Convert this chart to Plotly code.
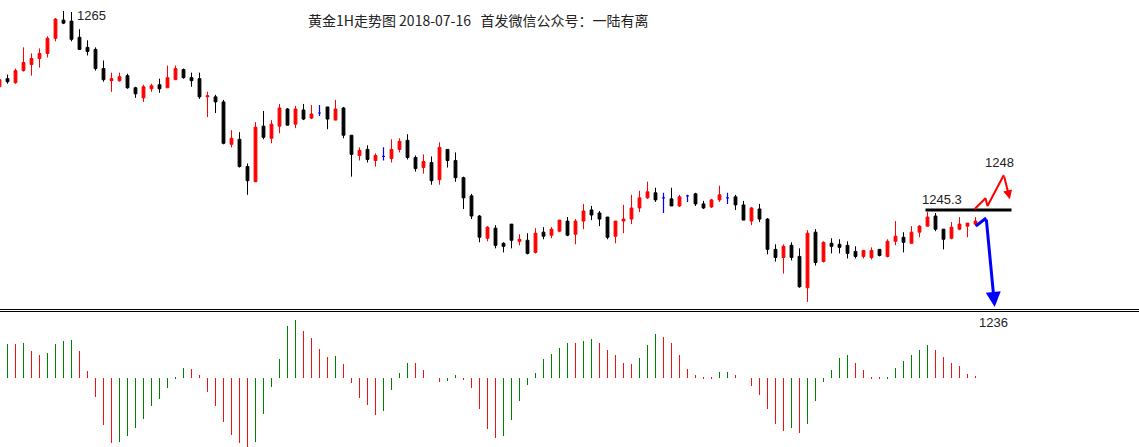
import plotly.graph_objects as go

# ---------------- data ----------------
opens = [1257.5, 1258.3, 1257.9, 1259.1, 1259.7, 1260.3, 1260.8, 1262.3, 1264.1, 1264.0,
         1262.4, 1261.4, 1261.2, 1259.3, 1258.1, 1258.1, 1258.6, 1257.4, 1256.4, 1257.3,
         1257.7, 1257.4, 1258.2, 1259.2, 1258.4, 1258.3, 1256.5, 1256.5, 1256.0, 1251.8,
         1252.3, 1249.6, 1248.1, 1253.6, 1252.4, 1253.6, 1255.3, 1253.8, 1255.2, 1254.4,
         1254.9, 1255.5, 1254.2, 1255.4, 1252.7, 1250.7, 1251.3, 1250.2, 1250.6, 1250.4,
         1251.3, 1252.2, 1250.5, 1249.5, 1250.0, 1248.3, 1251.3, 1250.2, 1248.5, 1246.7,
         1244.7, 1242.5, 1243.5, 1242.0, 1243.9, 1242.2, 1242.3, 1241.1, 1243.1, 1242.8,
         1243.2, 1244.2, 1242.9, 1244.2, 1245.3, 1245.0, 1244.6, 1242.7, 1244.2, 1244.4,
         1245.5, 1246.5, 1247.0, 1246.5, 1246.4, 1245.7, 1246.7, 1246.9, 1245.9, 1245.6,
         1246.3, 1246.5, 1246.6, 1245.8, 1244.2, 1245.4, 1244.4, 1241.4, 1240.6, 1241.8,
         1240.7, 1237.6, 1243.1, 1240.2, 1242.0, 1241.9, 1241.8, 1241.2, 1240.7, 1240.6,
         1241.4, 1240.7, 1242.2, 1242.6, 1242.0, 1243.1, 1243.7, 1244.7, 1243.4, 1242.5,
         1243.4, 1243.7, 1243.9]
highs = [1258.3, 1258.7, 1259.3, 1261.4, 1260.8, 1261.3, 1262.5, 1264.3, 1265.0, 1264.9,
         1263.2, 1262.1, 1261.4, 1260.1, 1258.9, 1258.9, 1258.8, 1257.5, 1257.7, 1257.8,
         1258.3, 1259.6, 1259.6, 1259.3, 1258.9, 1258.9, 1257.0, 1256.7, 1256.2, 1253.2,
         1253.0, 1249.9, 1254.0, 1255.1, 1254.2, 1255.8, 1255.4, 1255.6, 1255.8, 1255.7,
         1255.7, 1255.5, 1256.2, 1255.5, 1252.7, 1251.5, 1251.7, 1250.9, 1251.5, 1252.3,
         1252.4, 1252.8, 1250.7, 1250.8, 1250.6, 1252.0, 1251.3, 1251.0, 1248.6, 1246.9,
         1244.8, 1243.7, 1243.8, 1242.1, 1243.9, 1242.9, 1243.0, 1243.5, 1243.6, 1243.6,
         1244.3, 1244.6, 1244.4, 1245.9, 1245.7, 1245.2, 1244.6, 1244.2, 1245.8, 1246.8,
         1247.2, 1248.1, 1247.5, 1247.0, 1247.5, 1246.8, 1246.8, 1247.0, 1246.2, 1246.4,
         1247.7, 1247.0, 1246.8, 1246.2, 1245.6, 1245.9, 1244.5, 1241.9, 1241.9, 1242.1,
         1241.5, 1243.3, 1243.4, 1242.2, 1242.5, 1242.4, 1242.2, 1241.7, 1241.3, 1241.6,
         1241.4, 1242.4, 1244.2, 1243.1, 1243.7, 1243.8, 1245.1, 1245.0, 1243.4, 1244.1,
         1244.6, 1244.0, 1244.6]
lows = [1257.4, 1257.8, 1257.8, 1259.0, 1258.6, 1259.4, 1260.4, 1262.0, 1263.7, 1262.0,
        1261.2, 1260.6, 1259.1, 1258.0, 1257.0, 1258.0, 1257.3, 1256.4, 1256.0, 1257.0,
        1256.9, 1257.4, 1258.2, 1258.3, 1257.5, 1256.3, 1254.5, 1254.9, 1251.8, 1251.5,
        1249.5, 1246.8, 1248.1, 1252.3, 1251.9, 1252.9, 1253.7, 1253.4, 1254.2, 1254.3,
        1254.6, 1253.3, 1254.2, 1252.4, 1248.6, 1250.2, 1250.0, 1249.6, 1250.2, 1250.0,
        1251.0, 1250.3, 1249.1, 1248.9, 1247.8, 1247.8, 1249.5, 1248.1, 1245.4, 1244.4,
        1242.1, 1242.2, 1241.5, 1241.1, 1241.5, 1241.8, 1240.9, 1241.0, 1242.4, 1242.5,
        1243.1, 1242.7, 1241.9, 1243.4, 1244.3, 1243.7, 1242.4, 1242.0, 1243.0, 1243.9,
        1245.1, 1246.4, 1246.1, 1245.0, 1245.7, 1245.6, 1246.1, 1245.7, 1245.4, 1245.5,
        1246.1, 1245.9, 1245.3, 1244.3, 1243.8, 1244.1, 1240.9, 1240.2, 1239.0, 1240.3,
        1237.6, 1236.2, 1239.8, 1240.1, 1241.0, 1241.0, 1240.5, 1240.5, 1240.5, 1240.4,
        1240.7, 1240.6, 1241.8, 1241.1, 1242.0, 1242.6, 1243.7, 1243.2, 1241.4, 1242.4,
        1243.3, 1242.6, 1243.7]
closes = [1258.2, 1258.0, 1259.1, 1259.9, 1260.3, 1260.8, 1262.3, 1264.2, 1263.8, 1262.2,
          1261.2, 1261.0, 1259.3, 1258.2, 1258.3, 1258.5, 1257.4, 1256.8, 1257.5, 1257.6,
          1257.3, 1258.4, 1259.3, 1258.4, 1258.1, 1256.5, 1256.6, 1256.0, 1251.9, 1252.4,
          1249.6, 1248.2, 1253.5, 1252.5, 1253.8, 1255.4, 1253.7, 1255.3, 1254.3, 1254.8,
          1254.9, 1254.3, 1255.3, 1252.7, 1250.8, 1251.2, 1250.3, 1250.7, 1250.6, 1251.3,
          1252.1, 1250.5, 1249.4, 1250.1, 1248.2, 1251.5, 1250.2, 1248.5, 1246.5, 1244.7,
          1242.6, 1243.6, 1241.8, 1241.7, 1242.3, 1242.4, 1241.0, 1243.0, 1242.7, 1243.4,
          1244.3, 1242.8, 1244.2, 1245.2, 1244.8, 1244.4, 1242.6, 1244.2, 1244.4, 1245.5,
          1246.5, 1247.1, 1246.3, 1246.5, 1245.7, 1246.6, 1246.7, 1245.9, 1245.5, 1246.3,
          1246.8, 1246.5, 1245.8, 1244.3, 1245.5, 1244.4, 1241.4, 1240.6, 1241.7, 1240.6,
          1237.7, 1243.0, 1240.1, 1242.1, 1241.7, 1241.6, 1241.0, 1240.7, 1241.3, 1241.3,
          1240.8, 1242.2, 1242.7, 1242.1, 1243.1, 1243.7, 1244.6, 1243.4, 1242.4, 1243.6,
          1243.9, 1244.0, 1244.2]

# oscillator histogram (one bar per candle, starting at candle 1)
hist_values = [1.03, 1.03, 1.06, 0.82, 0.70, 0.76, 1.03, 1.12, 1.15, 0.82,
               0.22, -0.55, -1.39, -1.93, -1.92, -1.72, -1.48, -1.21, -0.82, -0.61,
               -0.28, 0.04, 0.31, 0.28, 0.10, -0.40, -0.82, -1.30, -1.69, -1.93,
               -2.05, -1.90, -1.06, -0.25, 0.58, 1.57, 1.75, 1.42, 1.21, 0.88,
               0.64, 0.67, 0.43, -0.13, -0.58, -0.79, -1.09, -0.97, -0.34, 0.16,
               0.46, 0.45, 0.25, 0.00, -0.10, -0.07, 0.10, -0.04, -0.28, -0.91,
               -1.51, -1.78, -1.72, -1.24, -0.67, -0.19, 0.16, 0.58, 0.73, 0.91,
               1.06, 1.05, 1.12, 1.18, 1.06, 0.85, 0.70, 0.46, 0.43, 0.61,
               1.00, 1.33, 1.24, 1.06, 0.70, 0.28, 0.10, 0.04, 0.01, 0.19,
               0.20, 0.10, 0.00, -0.22, -0.49, -0.91, -1.36, -1.57, -1.48, -1.63,
               -1.36, -0.67, -0.10, 0.25, 0.61, 0.70, 0.46, 0.25, 0.02, 0.01,
               0.015, 0.31, 0.52, 0.70, 0.85, 1.00, 0.85, 0.64, 0.46, 0.37,
               0.13, 0.07]

title_text = "黄金1H走势图 2018-07-16   首发微信公众号：一陆有离"
high_label = "1265"
level_price = 1245.3
level_x = [115.75, 126.5]
target_up = 1248
target_down = 1236
up_path_x = [121.9, 123.25, 123.5, 125.54, 126.29]
up_path_y = [1245.4, 1246.46, 1245.69, 1248.76, 1246.36]
down_path_x = [122.04, 123.34, 124.4]
down_path_y = [1243.72, 1244.5, 1235.7]

# ---------------- figure ----------------
RED = "#ff0000"
BLACK = "#000000"
BLUE = "#0000ff"
GREEN = "#008000"
HRED = "#ee1111"

idx = list(range(len(opens)))
main = [i for i in idx if opens[i] != closes[i]]
doji = [i for i in idx if opens[i] == closes[i]]

fig = go.Figure()
fig.add_trace(go.Candlestick(
    x=[i for i in main], open=[opens[i] for i in main], high=[highs[i] for i in main],
    low=[lows[i] for i in main], close=[closes[i] for i in main],
    increasing=dict(line=dict(color=RED, width=1), fillcolor=RED),
    decreasing=dict(line=dict(color=BLACK, width=1), fillcolor=BLACK),
    whiskerwidth=0, hoverinfo="skip", xaxis="x", yaxis="y"))
fig.add_trace(go.Candlestick(
    x=doji, open=[opens[i] for i in doji], high=[highs[i] for i in doji],
    low=[lows[i] for i in doji], close=[closes[i] for i in doji],
    increasing=dict(line=dict(color=BLUE, width=1.2), fillcolor=BLUE),
    decreasing=dict(line=dict(color=BLUE, width=1.2), fillcolor=BLUE),
    whiskerwidth=0, hoverinfo="skip", xaxis="x", yaxis="y"))

hist_x = list(range(1, 1 + len(hist_values)))
hist_colors = [GREEN if (k == 0 or v > hist_values[k - 1]) else HRED
               for k, v in enumerate(hist_values)]
fig.add_trace(go.Bar(x=hist_x, y=hist_values, width=0.125,
                     marker=dict(color=hist_colors, line=dict(width=0)),
                     hoverinfo="skip", xaxis="x", yaxis="y2"))

# analysis drawings
fig.add_trace(go.Scatter(x=level_x, y=[level_price, level_price], mode="lines",
                         line=dict(color=BLACK, width=3), hoverinfo="skip"))
fig.add_trace(go.Scatter(x=up_path_x[:-1], y=up_path_y[:-1], mode="lines",
                         line=dict(color=RED, width=2), hoverinfo="skip"))
fig.add_trace(go.Scatter(x=down_path_x[:-1], y=down_path_y[:-1], mode="lines",
                         line=dict(color=BLUE, width=3), hoverinfo="skip"))

annotations = [
    dict(x=up_path_x[-1], y=up_path_y[-1], ax=up_path_x[-2], ay=up_path_y[-2],
         xref="x", yref="y", axref="x", ayref="y", text="", showarrow=True,
         arrowhead=2, arrowsize=0.9, arrowwidth=2, arrowcolor=RED, standoff=0),
    dict(x=down_path_x[-1], y=down_path_y[-1], ax=down_path_x[-2], ay=down_path_y[-2],
         xref="x", yref="y", axref="x", ayref="y", text="", showarrow=True,
         arrowhead=2, arrowsize=1, arrowwidth=3, arrowcolor=BLUE, standoff=0),
    dict(x=9.4, y=1264.6, xref="x", yref="y", text=high_label, showarrow=False,
         xanchor="left", yanchor="middle",
         font=dict(family="Liberation Sans, Arial", size=13, color="#222")),
    dict(x=117.75, y=1246.3, xref="x", yref="y", text=str(level_price), showarrow=False,
         xanchor="center", yanchor="middle",
         font=dict(family="Liberation Sans, Arial", size=13, color="#222")),
    dict(x=124.94, y=1250.05, xref="x", yref="y", text=str(target_up), showarrow=False,
         xanchor="center", yanchor="middle",
         font=dict(family="Liberation Sans, Arial", size=13, color="#222")),
    dict(x=124.3, y=1 - 322.5 / 447, xref="x", yref="paper", text=str(target_down),
         showarrow=False, xanchor="center", yanchor="middle",
         font=dict(family="Liberation Sans, Arial", size=13, color="#222")),
    dict(x=478 / 1139, y=1 - 20 / 447, xref="paper", yref="paper", text=title_text,
         showarrow=False, xanchor="center", yanchor="middle",
         font=dict(family="Noto Sans CJK SC", size=14, color="#222")),
]

shapes = [
    dict(type="line", xref="paper", yref="paper", x0=0, x1=1,
         y0=1 - 309.5 / 447, y1=1 - 309.5 / 447, line=dict(color=BLACK, width=1)),
    dict(type="line", xref="paper", yref="paper", x0=0, x1=1,
         y0=1 - 311.5 / 447, y1=1 - 311.5 / 447, line=dict(color=BLACK, width=1)),
]

fig.update_layout(
    width=1139, height=447, margin=dict(l=0, r=0, t=0, b=0),
    paper_bgcolor="white", plot_bgcolor="white", showlegend=False,
    boxgap=0.5, bargap=0,
    xaxis=dict(range=[0.0625, 142.4375], visible=False, rangeslider=dict(visible=False),
               domain=[0, 1]),
    yaxis=dict(range=[1235.595, 1266.09], domain=[1 - 308 / 447, 1], visible=False),
    yaxis2=dict(range=[-2.061, 1.989], domain=[0, 135 / 447], visible=False, anchor="x"),
    annotations=annotations, shapes=shapes,
)

fig.write_html("out.html")
